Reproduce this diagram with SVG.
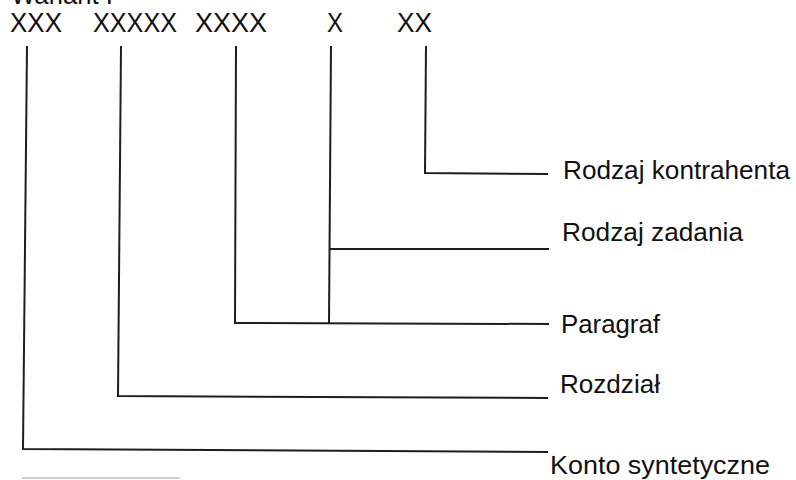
<svg xmlns="http://www.w3.org/2000/svg" width="796" height="480" viewBox="0 0 796 480">
<style>
  .t { font-family: "Liberation Sans", Arial, sans-serif; fill: #111111; }
  .code { font-size: 27px; }
  .lab { font-size: 25px; }
  .ln { fill: none; stroke: #1e1e1e; stroke-width: 2; stroke-linejoin: miter; }
</style>
<rect width="796" height="480" fill="#ffffff"/>
<g id="title">
  <text class="t code" x="11" y="4" textLength="102" lengthAdjust="spacingAndGlyphs">Wariant I</text>
</g>
<g id="codes">
  <text id="c1" class="t code" x="10" y="32" textLength="52" lengthAdjust="spacingAndGlyphs">XXX</text>
  <text id="c2" class="t code" x="93" y="32" textLength="84" lengthAdjust="spacingAndGlyphs">XXXXX</text>
  <text id="c3" class="t code" x="195" y="32" textLength="72" lengthAdjust="spacingAndGlyphs">XXXX</text>
  <text id="c4" class="t code" x="327" y="32" textLength="16" lengthAdjust="spacingAndGlyphs">X</text>
  <text id="c5" class="t code" x="397" y="32" textLength="35" lengthAdjust="spacingAndGlyphs">XX</text>
</g>
<g id="labels">
  <text id="l5" class="t lab" x="563" y="179" textLength="227" lengthAdjust="spacingAndGlyphs">Rodzaj kontrahenta</text>
  <text id="l4" class="t lab" x="562" y="241" textLength="181" lengthAdjust="spacingAndGlyphs">Rodzaj zadania</text>
  <text id="l3" class="t lab" x="561" y="333" textLength="99" lengthAdjust="spacingAndGlyphs">Paragraf</text>
  <text id="l2" class="t lab" x="560" y="393" textLength="100" lengthAdjust="spacingAndGlyphs">Rozdział</text>
  <text id="l1" class="t lab" x="550" y="474" textLength="220" lengthAdjust="spacingAndGlyphs">Konto syntetyczne</text>
</g>
<g id="connectors">
  <polyline class="ln" points="27,46 23,449 548,452"/>
  <polyline class="ln" points="121,46 118,396 548,398"/>
  <polyline class="ln" points="236,46 235,323 549,324"/>
  <polyline class="ln" points="331,46 329,323"/>
  <line class="ln" x1="329" y1="249" x2="549" y2="249"/>
  <polyline class="ln" points="426,46 425,173 548,174"/>
</g>
<g id="artifact">
  <line x1="22" y1="478" x2="180" y2="478" stroke="#bdbdbd" stroke-width="1.5"/>
</g>
</svg>
